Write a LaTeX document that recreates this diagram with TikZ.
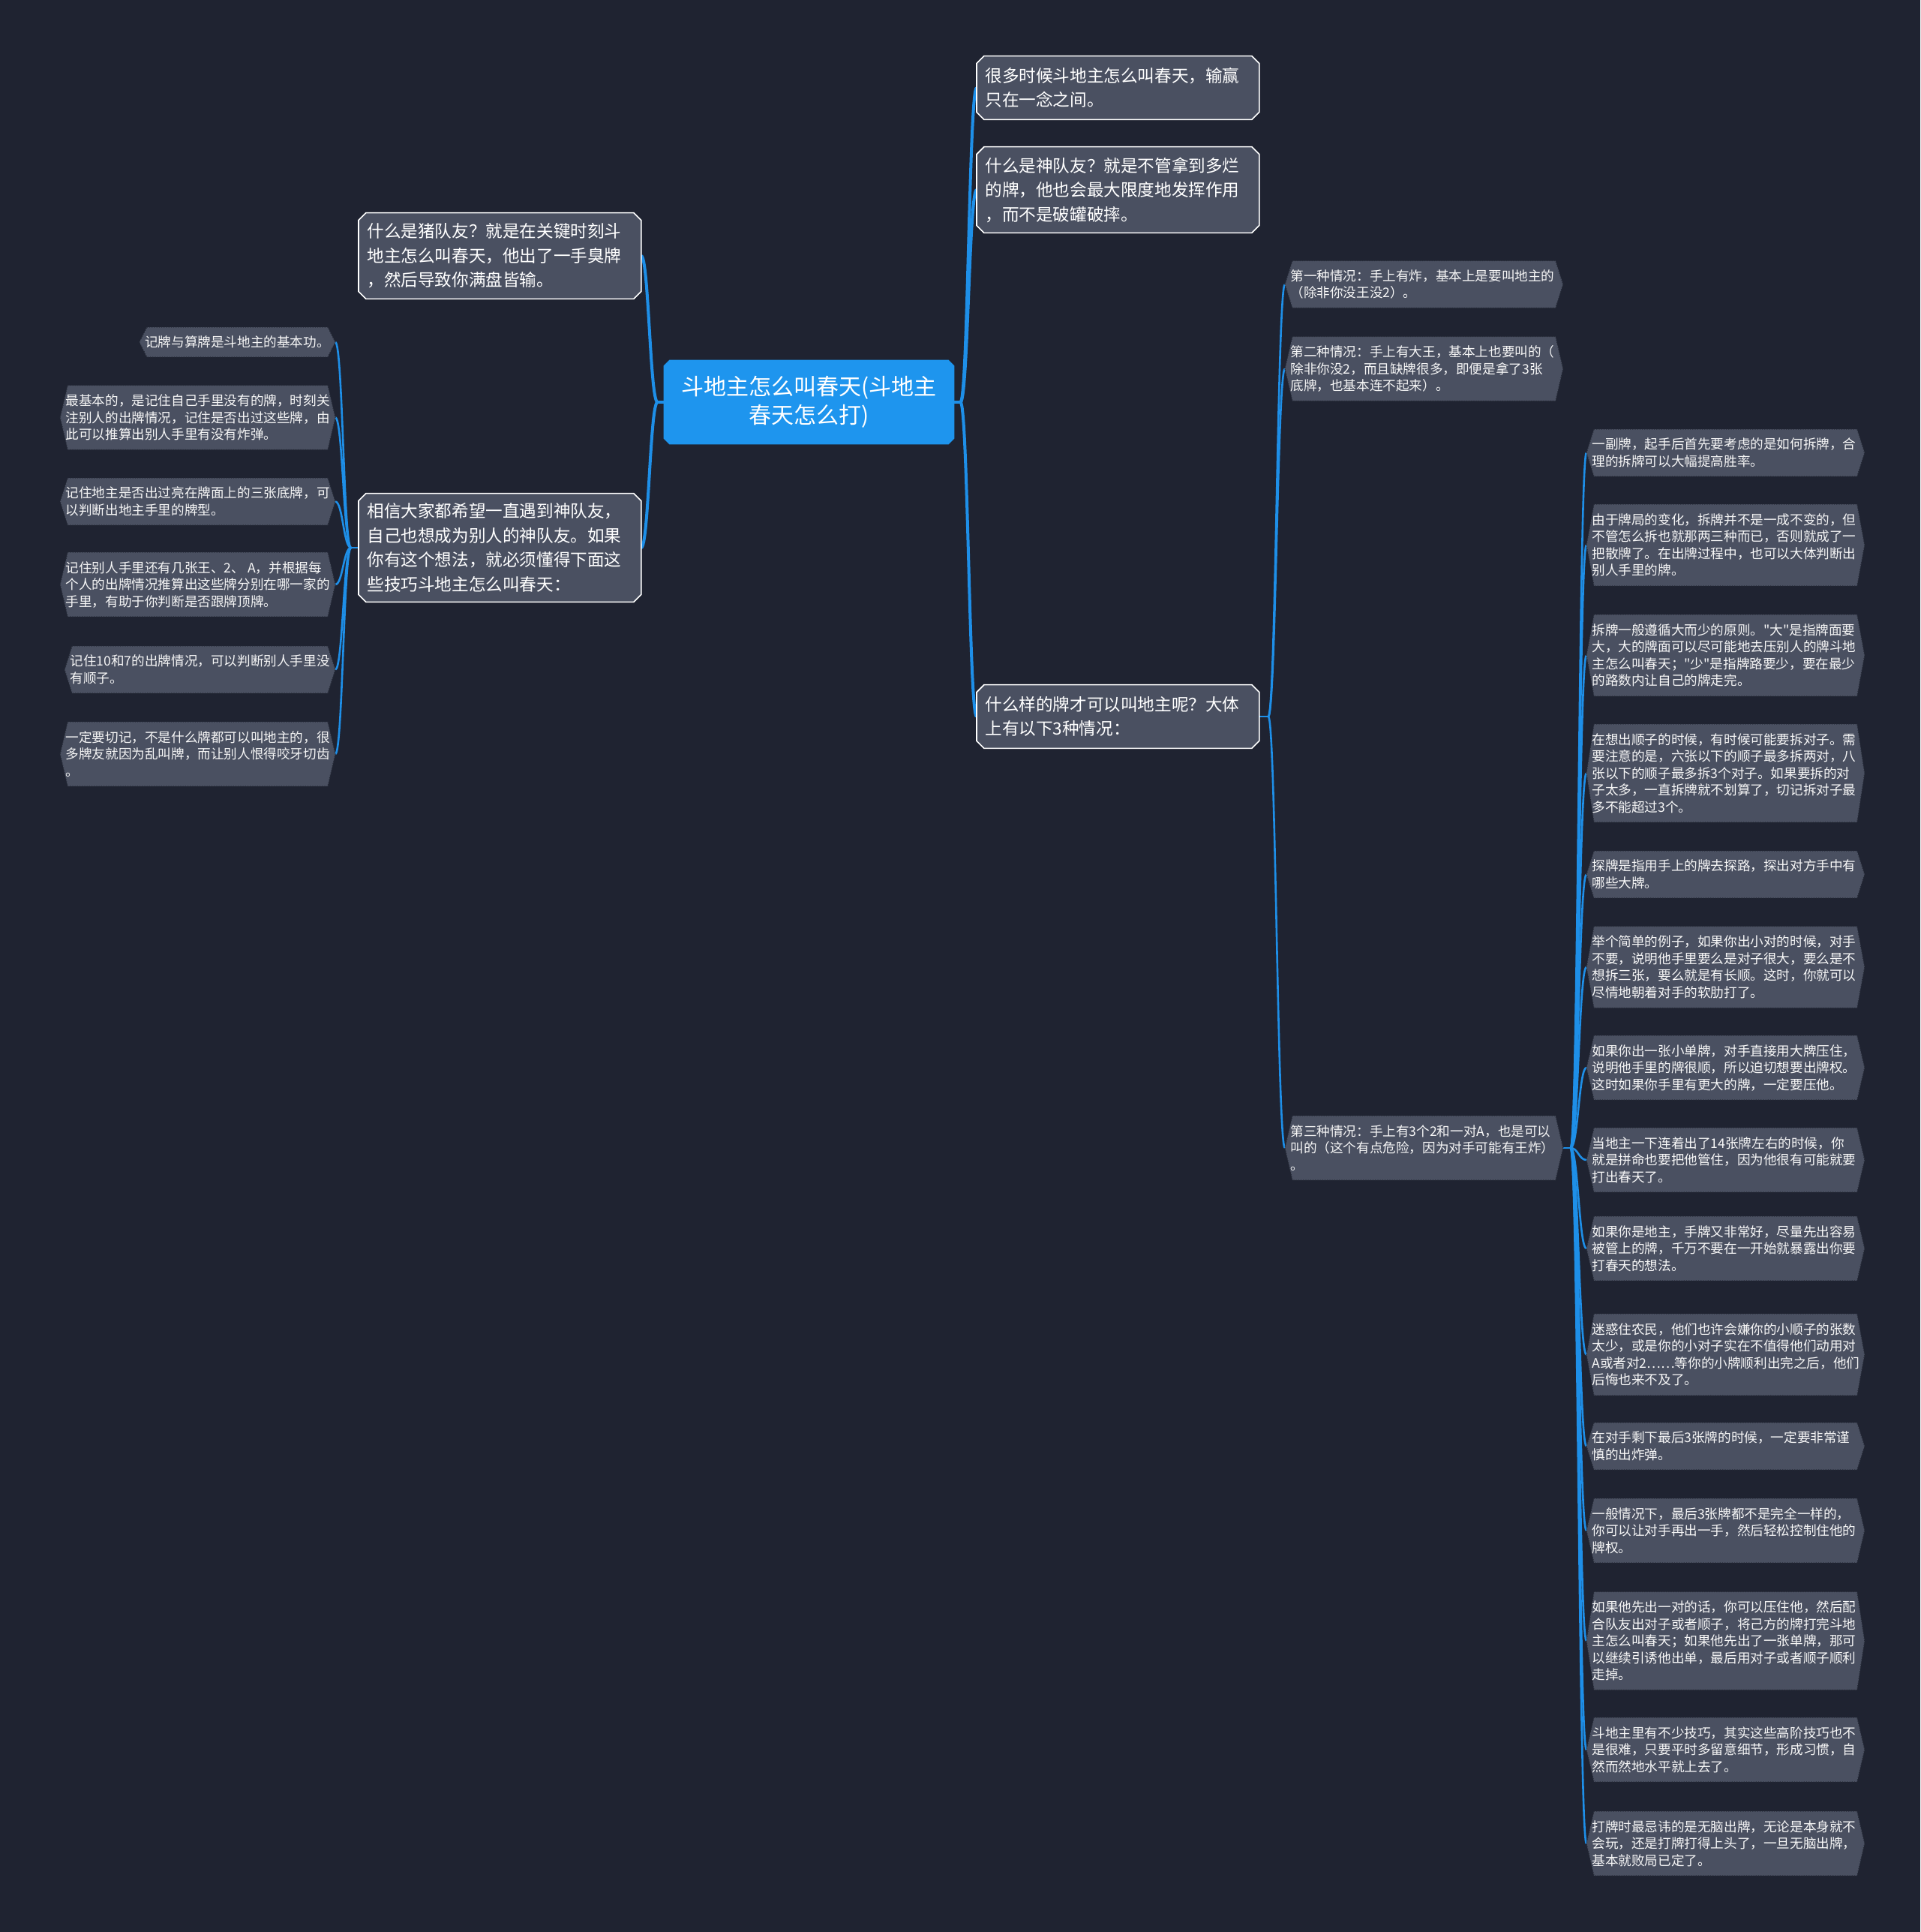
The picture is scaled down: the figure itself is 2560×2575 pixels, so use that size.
\documentclass[tikz,border=0pt]{standalone}
\usepackage{fontspec}
\setmainfont{Noto Sans CJK SC}
\font\qtfont="Noto Sans CJK SC" at 8.8pt
\newcommand{\sq}{{\qtfont\char34}}
\definecolor{bgcol}{HTML}{1F2331}
\definecolor{boxcol}{HTML}{4A5061}
\definecolor{linecol}{HTML}{1E8FE8}
\definecolor{rootcol}{HTML}{1E95EE}
\definecolor{boxedge}{HTML}{262B37}
\pgfdeclarelayer{bg}
\pgfsetlayers{bg,main}
\newcommand{\mmlinkR}[3]{\draw[#1] (#2) .. controls ([xshift=5pt]#2) and ([xshift=-5pt]#3) .. (#3);}
\newcommand{\mmlinkL}[3]{\draw[#1] (#2) .. controls ([xshift=-5pt]#2) and ([xshift=5pt]#3) .. (#3);}
\newcommand{\mmoct}[3]{\path[#3] ([xshift=#2]#1.north west) -- ([xshift=-#2]#1.north east) -- ([yshift=-#2]#1.north east) -- ([yshift=#2]#1.south east) -- ([xshift=-#2]#1.south east) -- ([xshift=#2]#1.south west) -- ([yshift=#2]#1.south west) -- ([yshift=-#2]#1.north west) -- cycle;}
\newcommand{\mmhex}[1]{\path[leafshape] ([xshift=5pt]#1.north west) -- ([xshift=-5pt]#1.north east) -- (#1.east) -- ([xshift=-5pt]#1.south east) -- ([xshift=5pt]#1.south west) -- (#1.west) -- cycle;}
\tikzset{
  rootnode/.style={font=\fontsize{15pt}{19pt}\selectfont, text=white, align=center, minimum width=193.5pt, minimum height=56pt, inner sep=0pt},
  topic/.style={font=\fontsize{11.3pt}{16.25pt}\selectfont, text=white, align=left, text width=177pt, inner xsep=5.5pt, inner ysep=0pt},
  leaf/.style={font=\fontsize{8.8pt}{11.25pt}\selectfont, text=white!94!gray, align=left, inner xsep=3.5pt, inner ysep=0pt},
  leafw/.style={leaf, text width=178pt},
  conn/.style={draw=linecol, line width=1.3pt},
  connmain/.style={draw=linecol, line width=2pt},
  rootshape/.style={fill=rootcol},
  topicshape/.style={fill=boxcol, draw=white, line width=0.8pt},
  leafshape/.style={fill=boxcol, draw=boxedge, line width=0.6pt, densely dotted},
  ln1/.style={minimum height=19.5pt},
  ln2/.style={minimum height=31pt},
  ln3/.style={minimum height=42.5pt},
  ln4/.style={minimum height=54pt},
  ln5/.style={minimum height=65pt},
}
\begin{document}
\begin{tikzpicture}[x=0.5pt, y=-0.5pt]
\useasboundingbox (0,0) rectangle (2560,2575);
% root and main topics
\node[rootnode] (root) at (1078.5,536) {斗地主怎么叫春天(斗地主\\春天怎么打)};
\node[topic, anchor=west, minimum height=42pt] (t1) at (1302,117) {很多时候斗地主怎么叫春天，输赢\\只在一念之间。};
\node[topic, anchor=west, minimum height=57pt] (t2) at (1302,253) {什么是神队友？就是不管拿到多烂\\的牌，他也会最大限度地发挥作用\\，而不是破罐破摔。};
\node[topic, anchor=west, minimum height=42pt] (t3) at (1302,955) {什么样的牌才可以叫地主呢？大体\\上有以下3种情况：};
\node[topic, anchor=west, minimum height=57pt] (t4) at (478,341) {什么是猪队友？就是在关键时刻斗\\地主怎么叫春天，他出了一手臭牌\\，然后导致你满盘皆输。};
\node[topic, anchor=west, minimum height=72pt] (t5) at (478,730) {相信大家都希望一直遇到神队友，\\自己也想成为别人的神队友。如果\\你有这个想法，就必须懂得下面这\\些技巧斗地主怎么叫春天：};
% left leaves
\node[leaf, ln1, anchor=east] (p1) at (447,456) {记牌与算牌是斗地主的基本功。};
\node[leaf, ln3, anchor=east] (p2) at (447,556.5) {最基本的，是记住自己手里没有的牌，时刻关\\注别人的出牌情况，记住是否出过这些牌，由\\此可以推算出别人手里有没有炸弹。};
\node[leaf, ln2, anchor=east] (p3) at (447,668.5) {记住地主是否出过亮在牌面上的三张底牌，可\\以判断出地主手里的牌型。};
\node[leaf, ln3, anchor=east] (p4) at (447,779) {记住别人手里还有几张王、2、 A，并根据每\\个人的出牌情况推算出这些牌分别在哪一家的\\手里，有助于你判断是否跟牌顶牌。};
\node[leaf, ln2, anchor=east] (p5) at (447,892.5) {记住10和7的出牌情况，可以判断别人手里没\\有顺子。};
\node[leaf, ln3, anchor=east] (p6) at (447,1005) {一定要切记，不是什么牌都可以叫地主的，很\\多牌友就因为乱叫牌，而让别人恨得咬牙切齿\\。};
% second level right
\node[leafw, ln2, anchor=west] (s1) at (1713,379) {第一种情况：手上有炸，基本上是要叫地主的\\（除非你没王没2）。};
\node[leafw, ln3, anchor=west] (s2) at (1713,491.5) {第二种情况：手上有大王，基本上也要叫的（\\除非你没2，而且缺牌很多，即便是拿了3张\\底牌，也基本连不起来）。};
\node[leafw, ln3, anchor=west] (s3) at (1713,1530) {第三种情况：手上有3个2和一对A，也是可以\\叫的（这个有点危险，因为对手可能有王炸）\\。};
% right leaves
\node[leafw, ln2, anchor=west] (r1) at (2115,603.5) {一副牌，起手后首先要考虑的是如何拆牌，合\\理的拆牌可以大幅提高胜率。};
\node[leafw, ln4, anchor=west] (r2) at (2115,726.5) {由于牌局的变化，拆牌并不是一成不变的，但\\不管怎么拆也就那两三种而已，否则就成了一\\把散牌了。在出牌过程中，也可以大体判断出\\别人手里的牌。};
\node[leafw, ln4, anchor=west] (r3) at (2115,873.5) {拆牌一般遵循大而少的原则。\sq 大\sq 是指牌面要\\大，大的牌面可以尽可能地去压别人的牌斗地\\主怎么叫春天；\sq 少\sq 是指牌路要少，要在最少\\的路数内让自己的牌走完。};
\node[leafw, ln5, anchor=west] (r4) at (2115,1030.5) {在想出顺子的时候，有时候可能要拆对子。需\\要注意的是，六张以下的顺子最多拆两对，八\\张以下的顺子最多拆3个对子。如果要拆的对\\子太多，一直拆牌就不划算了，切记拆对子最\\多不能超过3个。};
\node[leafw, ln2, anchor=west] (r5) at (2115,1165.5) {探牌是指用手上的牌去探路，探出对方手中有\\哪些大牌。};
\node[leafw, ln4, anchor=west] (r6) at (2115,1289) {举个简单的例子，如果你出小对的时候，对手\\不要，说明他手里要么是对子很大，要么是不\\想拆三张，要么就是有长顺。这时，你就可以\\尽情地朝着对手的软肋打了。};
\node[leafw, ln3, anchor=west] (r7) at (2115,1423) {如果你出一张小单牌，对手直接用大牌压住，\\说明他手里的牌很顺，所以迫切想要出牌权。\\这时如果你手里有更大的牌，一定要压他。};
\node[leafw, ln3, anchor=west] (r8) at (2115,1546) {当地主一下连着出了14张牌左右的时候，你\\就是拼命也要把他管住，因为他很有可能就要\\打出春天了。};
\node[leafw, ln3, anchor=west] (r9) at (2115,1664) {如果你是地主，手牌又非常好，尽量先出容易\\被管上的牌，千万不要在一开始就暴露出你要\\打春天的想法。};
\node[leafw, ln4, anchor=west] (r10) at (2115,1805.5) {迷惑住农民，他们也许会嫌你的小顺子的张数\\太少，或是你的小对子实在不值得他们动用对\\A或者对2……等你的小牌顺利出完之后，他们\\后悔也来不及了。};
\node[leafw, ln2, anchor=west] (r11) at (2115,1927.5) {在对手剩下最后3张牌的时候，一定要非常谨\\慎的出炸弹。};
\node[leafw, ln3, anchor=west] (r12) at (2115,2040) {一般情况下，最后3张牌都不是完全一样的，\\你可以让对手再出一手，然后轻松控制住他的\\牌权。};
\node[leafw, ln5, anchor=west] (r13) at (2115,2187) {如果他先出一对的话，你可以压住他，然后配\\合队友出对子或者顺子，将己方的牌打完斗地\\主怎么叫春天；如果他先出了一张单牌，那可\\以继续引诱他出单，最后用对子或者顺子顺利\\走掉。};
\node[leafw, ln3, anchor=west] (r14) at (2115,2332) {斗地主里有不少技巧，其实这些高阶技巧也不\\是很难，只要平时多留意细节，形成习惯，自\\然而然地水平就上去了。};
\node[leafw, ln3, anchor=west] (r15) at (2115,2457) {打牌时最忌讳的是无脑出牌，无论是本身就不\\会玩，还是打牌打得上头了，一旦无脑出牌，\\基本就败局已定了。};
% stub coordinates
\coordinate (rootE) at ([xshift=4pt]root.east);
\coordinate (rootW) at ([xshift=-4pt]root.west);
\coordinate (t3E) at ([xshift=6pt]t3.east);
\coordinate (t5W) at ([xshift=-5pt]t5.west);
\coordinate (s3E) at ([xshift=5pt]s3.east);
\begin{pgfonlayer}{bg}
\fill[bgcol] (0,0) rectangle (2560,2575);
% connectors
\draw[connmain] (root.east) -- (rootE);
\draw[connmain] (root.west) -- (rootW);
\mmlinkR{connmain}{rootE}{t1.west}
\mmlinkR{connmain}{rootE}{t2.west}
\mmlinkR{connmain}{rootE}{t3.west}
\mmlinkL{connmain}{rootW}{t4.east}
\mmlinkL{connmain}{rootW}{t5.east}
\draw[conn] (t3.east) -- (t3E);
\mmlinkR{conn}{t3E}{s1.west}
\mmlinkR{conn}{t3E}{s2.west}
\mmlinkR{conn}{t3E}{s3.west}
\draw[conn] (t5.west) -- (t5W);
\foreach \n in {p1,p2,p3,p4,p5,p6}{\mmlinkL{conn}{t5W}{\n.east}}
\draw[conn] (s3.east) -- (s3E);
\foreach \n in {r1,r2,r3,r4,r5,r6,r7,r8,r9,r10,r11,r12,r13,r14,r15}{\mmlinkR{conn}{s3E}{\n.west}}
% shapes
\mmoct{root}{4pt}{rootshape}
\foreach \n in {t1,t2,t3,t4,t5}{\mmoct{\n}{5pt}{topicshape}}
\foreach \n in {p1,p2,p3,p4,p5,p6,s1,s2,s3,r1,r2,r3,r4,r5,r6,r7,r8,r9,r10,r11,r12,r13,r14,r15}{\mmhex{\n}}
\end{pgfonlayer}
\end{tikzpicture}
\end{document}
